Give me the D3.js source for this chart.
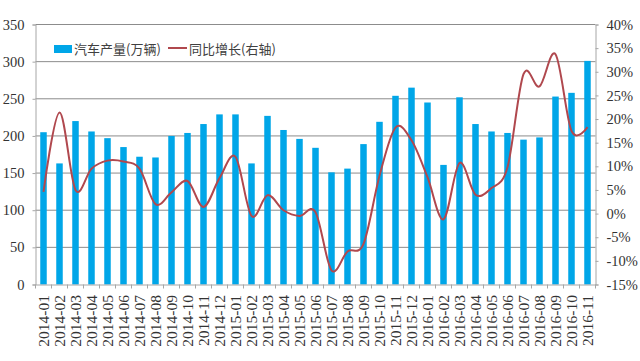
<!DOCTYPE html>
<html>
<head>
<meta charset="utf-8">
<script src="https://cdn.jsdelivr.net/npm/d3@7/dist/d3.min.js"></script>
<style>
  html, body { margin: 0; padding: 0; background: #fff; }
  svg text { fill: #333; }
  .legend text { font-size: 13px; fill: #404040; }
</style>
</head>
<body>
<div id="chart"></div>
<script>
const months = ['2014-01','2014-02','2014-03','2014-04','2014-05','2014-06','2014-07','2014-08','2014-09','2014-10','2014-11','2014-12',
  '2015-01','2015-02','2015-03','2015-04','2015-05','2015-06','2015-07','2015-08','2015-09','2015-10','2015-11','2015-12',
  '2016-01','2016-02','2016-03','2016-04','2016-05','2016-06','2016-07','2016-08','2016-09','2016-10','2016-11'];
const output = [205,163,220,206,197,185,172,171,200,204,216,229,
  229,163,227,208,196,184,151,156,189,219,254,265,
  245,161,252,216,206,204,195,198,253,258,301];
const growth = [4.6,21.4,5,9.5,11.2,11,9.5,2,4.5,6.9,1.4,7.5,
  12,-0.5,3.9,0.7,-0.5,0.3,-12,-8,-6.4,8,18.2,15.5,
  7.7,-1.2,10.7,4,5.4,9.8,29.5,26.9,33.7,17.5,18.3];
const leftTicks = [0,50,100,150,200,250,300,350];
const rightTicks = [-15,-10,-5,0,5,10,15,20,25,30,35,40];

const serif = '"Liberation Serif", "Times New Roman", serif';
const cjk = '"Noto Sans CJK SC", sans-serif';

const width = 640, height = 361;
const margin = {top: 24.5, right: 44.5, bottom: 76.5, left: 35.5};
const innerW = width - margin.left - margin.right;
const innerH = height - margin.top - margin.bottom;

const svg = d3.select('#chart').append('svg')
  .attr('width', width)
  .attr('height', height)
  .style('display', 'block');
const chart = svg.append('g')
  .attr('transform', `translate(${margin.left},${margin.top})`);

const x = d3.scaleBand().domain(months).range([0, innerW]);
const yLeft = d3.scaleLinear().domain([0, 350]).range([innerH, 0]);
const yRight = d3.scaleLinear().domain([-15, 40]).range([innerH, 0]);

// gridlines sit behind the bars
chart.append('g')
  .selectAll('line')
  .data(leftTicks.filter(d => d > 0))
  .join('line')
  .attr('x1', 0)
  .attr('x2', innerW)
  .attr('y1', d => yLeft(d))
  .attr('y2', d => yLeft(d))
  .attr('stroke', '#8c8c8c')
  .attr('stroke-width', 1);

chart.selectAll('.bar')
  .data(months)
  .join('rect')
  .attr('class', 'bar')
  .attr('x', d => x(d) + (x.bandwidth() - 6.5) / 2)
  .attr('width', 6.5)
  .attr('y', (d, i) => yLeft(output[i]))
  .attr('height', (d, i) => innerH - yLeft(output[i]))
  .attr('fill', '#00a6e8');

const line = d3.line()
  .x((d, i) => x(months[i]) + x.bandwidth() / 2)
  .y(d => yRight(d))
  .curve(d3.curveCardinal.tension(0));

chart.append('path')
  .datum(growth)
  .attr('fill', 'none')
  .attr('stroke', '#b0484e')
  .attr('stroke-width', 2)
  .attr('d', line);

// axes
const xAxis = d3.axisBottom(x).tickSize(0).tickPadding(0);
const xAxisG = chart.append('g')
  .attr('transform', `translate(0,${innerH})`)
  .call(xAxis);
xAxisG.select('.domain').attr('stroke', '#a6a6a6');
xAxisG.selectAll('text')
  .attr('transform', 'rotate(-90)')
  .attr('x', -10.5)
  .attr('y', 0)
  .attr('dy', '0.33em')
  .style('text-anchor', 'end')
  .style('font-family', serif)
  .style('font-size', '15.5px');
chart.append('g')
  .selectAll('line')
  .data(d3.range(months.length + 1))
  .join('line')
  .attr('x1', d => d * x.step())
  .attr('x2', d => d * x.step())
  .attr('y1', innerH)
  .attr('y2', innerH + 4)
  .attr('stroke', '#a6a6a6');

const leftAxis = d3.axisLeft(yLeft).tickValues(leftTicks).tickSize(3).tickPadding(8);
const leftG = chart.append('g').call(leftAxis);
leftG.selectAll('line, .domain').attr('stroke', '#a6a6a6');
leftG.selectAll('text')
  .style('font-family', serif)
  .style('font-size', '14.5px');

const rightAxis = d3.axisRight(yRight).tickValues(rightTicks)
  .tickFormat(d => d + '%').tickSize(3).tickPadding(8);
const rightG = chart.append('g')
  .attr('transform', `translate(${innerW},0)`)
  .call(rightAxis);
rightG.selectAll('line, .domain').attr('stroke', '#a6a6a6');
rightG.selectAll('text')
  .style('font-family', serif)
  .style('font-size', '14.5px');

// legend
const legend = svg.append('g').attr('class', 'legend').style('font-family', cjk);
legend.append('rect')
  .attr('x', 54).attr('y', 45).attr('width', 18).attr('height', 8)
  .attr('fill', '#00a6e8');
legend.append('text').attr('x', 74).attr('y', 54).text('汽车产量(万辆)');
legend.append('line')
  .attr('x1', 168).attr('x2', 187).attr('y1', 48).attr('y2', 48)
  .attr('stroke', '#b0484e').attr('stroke-width', 2);
legend.append('text').attr('x', 189).attr('y', 54).text('同比增长(右轴)');
</script>
</body>
</html>
